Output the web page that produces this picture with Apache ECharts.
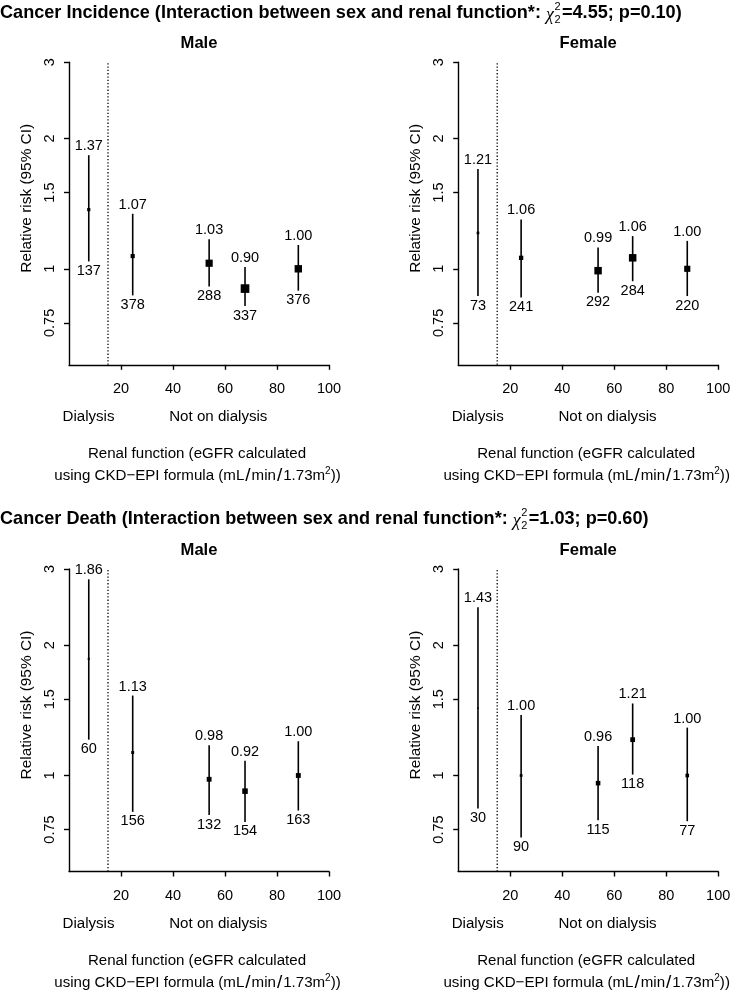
<!DOCTYPE html>
<html>
<head>
<meta charset="utf-8">
<script src="https://cdn.jsdelivr.net/npm/echarts@6/dist/echarts.min.js"></script>
<style>
html,body{margin:0;padding:0;background:#fff;}
#chart{width:735px;height:990px;}
</style>
</head>
<body>
<div id="chart"></div>
<script>
// ---------------- DATA ----------------
const groupNames = ['Dialysis', '15-<30', '30-<60', '60-<75', '>=75'];
const maleX   = [7.6, 24.5, 53.9, 67.7, 88.2];
const femaleX = [7.6, 24.2, 53.8, 67.1, 88.1];

const incMaleEst = [1.37, 1.07, 1.03, 0.90, 1.00];
const incMaleLo  = [1.04, 0.868, 0.91, 0.82, 0.89];
const incMaleHi  = [1.83, 1.34, 1.17, 1.01, 1.135];
const incMaleN   = [137, 378, 288, 337, 376];

const incFemaleEst = [1.21, 1.06, 0.99, 1.06, 1.00];
const incFemaleLo  = [0.865, 0.858, 0.88, 0.936, 0.865];
const incFemaleHi  = [1.70, 1.30, 1.12, 1.19, 1.16];
const incFemaleN   = [73, 241, 292, 284, 220];

const deathMaleEst = [1.86, 1.13, 0.98, 0.92, 1.00];
const deathMaleLo  = [1.21, 0.824, 0.81, 0.781, 0.83];
const deathMaleHi  = [2.84, 1.53, 1.175, 1.081, 1.20];
const deathMaleN   = [60, 156, 132, 154, 163];

const deathFemaleEst = [1.43, 1.00, 0.96, 1.21, 1.00];
const deathFemaleLo  = [0.839, 0.719, 0.788, 1.005, 0.784];
const deathFemaleHi  = [2.446, 1.379, 1.17, 1.467, 1.29];
const deathFemaleN   = [30, 90, 115, 118, 77];

const yTicks = [0.75, 1, 1.5, 2, 3];
const xTicks = [20, 40, 60, 80, 100];
const yMin = 0.6, yMax = 3, xMin = 0, xMax = 100;
const dialysisCut = 15;

const sectionTitles = [
  {main: 'Cancer Incidence (Interaction between sex and renal function*: ', stat: '=4.55; p=0.10)'},
  {main: 'Cancer Death (Interaction between sex and renal function*: ', stat: '=1.03; p=0.60)'}
];
const sexLabels = ['Male', 'Female'];
const yAxisTitle = 'Relative risk (95% CI)';
const xNote1 = 'Dialysis', xNote2 = 'Not on dialysis';
const xTitle1 = 'Renal function (eGFR calculated';
const xTitle2 = 'using CKD\u2212EPI formula (mL{sl|/}min{sl|/}1.73m{sup|2}))';

// ---------------- LAYOUT ----------------
const FONT = '"Liberation Sans", Arial, Helvetica, sans-serif';
const FS = 14.5;
const FS2 = 15.1;
const panelDefs = [
  {left: 69,    top: 62.3, x: maleX,   est: incMaleEst,     lo: incMaleLo,     hi: incMaleHi,     n: incMaleN,     sex: 0},
  {left: 458.2, top: 62.3, x: femaleX, est: incFemaleEst,   lo: incFemaleLo,   hi: incFemaleHi,   n: incFemaleN,   sex: 1},
  {left: 69,    top: 569,  x: maleX,   est: deathMaleEst,   lo: deathMaleLo,   hi: deathMaleHi,   n: deathMaleN,   sex: 0},
  {left: 458.2, top: 569,  x: femaleX, est: deathFemaleEst, lo: deathFemaleLo, hi: deathFemaleHi, n: deathFemaleN, sex: 1}
];
const PW = 260, PH = 302.5;
const boxScale = 0.46;

const chart = echarts.init(document.getElementById('chart'), null, {renderer: 'canvas'});

const grids = [], xAxes = [], yAxes = [], series = [], graphics = [];

function renderItem(params, api) {
  const x = api.value(0), est = api.value(1), lo = api.value(2), hi = api.value(3), n = api.value(4);
  const pTop = api.coord([x, hi]);
  const pBot = api.coord([x, lo]);
  const pEst = api.coord([x, est]);
  const se = (Math.log(hi) - Math.log(lo)) / 3.92;
  const side = boxScale / se;
  const txt = {fill: '#000', fontSize: FS, fontFamily: FONT, align: 'center', verticalAlign: 'middle', textAlign: 'center', textVerticalAlign: 'middle'};
  return {
    type: 'group',
    children: [
      {type: 'line', shape: {x1: pTop[0], y1: pTop[1], x2: pBot[0], y2: pBot[1]}, style: {stroke: '#000', lineWidth: 1.6}},
      {type: 'rect', shape: {x: pEst[0] - side / 2, y: pEst[1] - side / 2, width: side, height: side}, style: {fill: '#000'}},
      {type: 'text', x: pTop[0], y: pTop[1] - 9, style: Object.assign({text: est.toFixed(2)}, txt)},
      {type: 'text', x: pBot[0], y: pBot[1] + 9.5, style: Object.assign({text: String(n)}, txt)}
    ]
  };
}

panelDefs.forEach((p, i) => {
  grids.push({left: p.left, top: p.top, width: PW, height: PH, containLabel: false});
  xAxes.push({
    type: 'value', gridIndex: i, min: xMin, max: xMax,
    axisLine: {show: true, lineStyle: {color: '#000', width: 1.4}},
    axisTick: {show: true, length: 5, lineStyle: {color: '#000', width: 1.4}, customValues: xTicks},
    axisLabel: {show: true, color: '#000', fontSize: FS, fontFamily: FONT, margin: 17, customValues: xTicks},
    splitLine: {show: false}
  });
  yAxes.push({
    type: 'log', logBase: 10, gridIndex: i, min: yMin, max: yMax,
    axisLine: {show: true, lineStyle: {color: '#000', width: 1.4}},
    axisTick: {show: true, length: 5, lineStyle: {color: '#000', width: 1.4}, customValues: yTicks},
    axisLabel: {show: true, color: '#000', fontSize: FS, fontFamily: FONT, rotate: 90, margin: 12,
      customValues: yTicks, formatter: v => String(+(+v).toFixed(2))},
    splitLine: {show: false}
  });
  const data = p.x.map((xv, k) => ({name: groupNames[k], value: [xv, p.est[k], p.lo[k], p.hi[k], p.n[k]]}));
  series.push({
    type: 'custom', xAxisIndex: i, yAxisIndex: i, renderItem: renderItem,
    encode: {x: 0, y: [1, 2, 3]}, data: data, clip: false, silent: true
  });
  series.push({
    type: 'line', xAxisIndex: i, yAxisIndex: i, symbol: 'none', silent: true,
    data: [[dialysisCut, yMin], [dialysisCut, yMax]],
    lineStyle: {color: '#000', width: 1.3, type: [1.3, 2]}
  });
  const cx = p.left + PW / 2;
  const ctr = {fill: '#000', align: 'center', verticalAlign: 'middle', textAlign: 'center', textVerticalAlign: 'middle'};
  // panel sub title
  graphics.push({type: 'text', x: cx, y: p.top - 19, style: Object.assign({text: sexLabels[p.sex], font: 'bold 16.6px ' + FONT}, ctr)});
  // y axis title
  graphics.push({type: 'text', x: p.left - 42, y: p.top + 136, rotation: Math.PI / 2,
    style: Object.assign({text: yAxisTitle, font: '15.4px ' + FONT}, ctr)});
  const base = p.top + PH;
  const tstyle = Object.assign({font: FS2 + 'px ' + FONT}, ctr);
  graphics.push({type: 'text', x: p.left + 19.5, y: base + 52, style: Object.assign({text: xNote1}, tstyle)});
  graphics.push({type: 'text', x: p.left + 149.3, y: base + 52, style: Object.assign({text: xNote2}, tstyle)});
  graphics.push({type: 'text', x: cx - 2, y: base + 89.5, style: Object.assign({text: xTitle1}, tstyle)});
  graphics.push({type: 'text', x: cx - 1.5, y: base + 111, style: Object.assign({text: xTitle2,
    rich: {
      sup: {fontSize: 10, fontFamily: FONT, fill: '#000', verticalAlign: 'top', padding: [0, 0, 8, 0]},
      sl: {fontSize: 19, fontFamily: FONT, fill: '#000', padding: [0, 1, 0, 1]}
    }}, tstyle)});
});

// section titles with chi-square symbol
const mctx = document.createElement('canvas').getContext('2d');
function measure(str, font) { mctx.font = font; return mctx.measureText(str).width; }
const TF = 'bold 18.1px ' + FONT;
const CHIF = 'italic 18px "Liberation Serif", "DejaVu Serif", serif';
const SCF = '11px ' + FONT;
[12.5, 518.5].forEach((ty, s) => {
  const t = sectionTitles[s];
  const w1 = measure(t.main, TF);
  const wc = measure('\u03C7', CHIF);
  const ws = measure('2', SCF);
  const base = {fill: '#000', align: 'left', verticalAlign: 'middle', textAlign: 'left', textVerticalAlign: 'middle'};
  graphics.push({type: 'text', x: 0, y: ty, style: Object.assign({text: t.main, font: TF}, base)});
  graphics.push({type: 'text', x: w1, y: ty + 2.5, style: Object.assign({text: '\u03C7', font: CHIF}, base)});
  graphics.push({type: 'text', x: w1 + wc + 0.5, y: ty - 6, style: Object.assign({text: '2', font: SCF}, base)});
  graphics.push({type: 'text', x: w1 + wc + 0.5, y: ty + 7, style: Object.assign({text: '2', font: SCF}, base)});
  graphics.push({type: 'text', x: w1 + wc + ws + 2, y: ty, style: Object.assign({text: t.stat, font: TF}, base)});
});

chart.setOption({
  backgroundColor: '#fff',
  animation: false,
  grid: grids,
  xAxis: xAxes,
  yAxis: yAxes,
  series: series,
  graphic: {elements: graphics}
});
</script>
</body>
</html>
